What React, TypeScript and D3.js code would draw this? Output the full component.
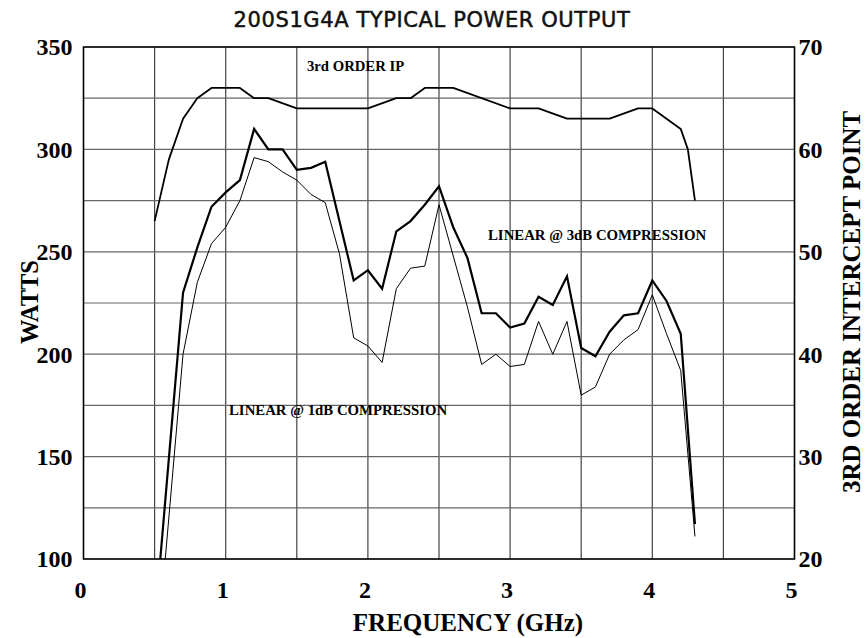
import React, { useRef, useEffect } from 'react';
import * as d3 from 'd3';

// 3rd order intercept point (dBm, right axis)
const ipFreq = [0.5, 0.6, 0.7, 0.8, 0.9, 1.1, 1.2, 1.3, 1.5, 2.0, 2.2, 2.3, 2.4, 2.6, 3.0, 3.2, 3.4, 3.7, 3.9, 4.0, 4.2, 4.25, 4.3];
const ipValue = [53, 59, 63, 65, 66, 66, 65, 65, 64, 64, 65, 65, 66, 66, 64, 64, 63, 63, 64, 64, 62, 60, 55];

// linear @ 3dB compression (watts)
const p3Freq = [0.54, 0.7, 0.8, 0.9, 1.0, 1.1, 1.2, 1.3, 1.4, 1.5, 1.6, 1.7, 1.9, 2.0, 2.1, 2.2, 2.3, 2.4, 2.5, 2.6, 2.7, 2.8, 2.9, 3.0, 3.1, 3.2, 3.3, 3.4, 3.5, 3.6, 3.7, 3.8, 3.9, 4.0, 4.1, 4.2, 4.3];
const p3Watts = [100, 230, 252, 272, 279, 285, 310, 300, 300, 290, 291, 294, 236, 241, 232, 260, 265, 273, 282, 262, 247, 220, 220, 213, 215, 228, 224, 238, 203, 199, 211, 219, 220, 236, 226, 210, 117];

// linear @ 1dB compression (watts)
const p1Freq = [0.575, 0.7, 0.8, 0.9, 1.0, 1.1, 1.2, 1.3, 1.4, 1.5, 1.6, 1.7, 1.8, 1.9, 2.0, 2.1, 2.2, 2.3, 2.4, 2.5, 2.7, 2.8, 2.9, 3.0, 3.1, 3.2, 3.3, 3.4, 3.5, 3.6, 3.7, 3.8, 3.9, 4.0, 4.1, 4.2, 4.3];
const p1Watts = [100, 200, 235, 254, 262, 275, 296, 294, 289, 285, 278, 274, 249, 208, 204, 196, 232, 242, 243, 273, 223, 195, 200, 194, 195, 216, 200, 216, 180, 184, 200, 207, 212, 229, 210, 192, 111];

const xTicks = [0, 1, 2, 3, 4, 5];
const yTicks = [100, 150, 200, 250, 300, 350];
const ipTicks = [20, 30, 40, 50, 60, 70];

const App = () => {
  const svgRef = useRef<SVGSVGElement>(null);

  useEffect(() => {
    const width = 865;
    const height = 638;
    const margin = { top: 47, right: 70.5, bottom: 79, left: 83.5 };

    const svg = d3.select(svgRef.current);
    svg.selectAll('*').remove();
    svg.attr('width', width).attr('height', height);

    const x = d3.scaleLinear().domain([0, 5]).range([margin.left, width - margin.right]);
    const y = d3.scaleLinear().domain([100, 350]).range([height - margin.bottom, margin.top]);
    const yIp = d3.scaleLinear().domain([20, 70]).range([height - margin.bottom, margin.top]);

    const serif = '"Liberation Serif", "Times New Roman", serif';

    // title
    svg.append('text')
      .attr('x', 432)
      .attr('y', 27)
      .attr('text-anchor', 'middle')
      .attr('font-family', '"DejaVu Sans", sans-serif')
      .attr('font-size', 21)
      .attr('letter-spacing', 0.6)
      .attr('fill', '#111')
      .attr('stroke', '#111')
      .attr('stroke-width', 0.5)
      .text('200S1G4A TYPICAL POWER OUTPUT');

    // grid
    const grid = svg.append('g');
    d3.range(0, 5.01, 0.5).forEach(v => {
      grid.append('line')
        .attr('x1', x(v)).attr('x2', x(v))
        .attr('y1', y(100)).attr('y2', y(350))
        .attr('stroke', '#444').attr('stroke-width', 1.2);
    });
    d3.range(100, 351, 25).forEach(v => {
      grid.append('line')
        .attr('x1', x(0)).attr('x2', x(5))
        .attr('y1', y(v)).attr('y2', y(v))
        .attr('stroke', '#666').attr('stroke-width', 1.2);
    });
    grid.append('rect')
      .attr('x', x(0)).attr('y', y(350))
      .attr('width', x(5) - x(0)).attr('height', y(100) - y(350))
      .attr('fill', 'none').attr('stroke', '#000').attr('stroke-width', 1.5);

    // left ticks
    svg.append('g').selectAll('text').data(yTicks).join('text')
      .attr('x', x(0) - 11)
      .attr('y', d => y(d))
      .attr('dy', '0.35em')
      .attr('text-anchor', 'end')
      .attr('font-family', serif)
      .attr('font-weight', 'bold')
      .attr('font-size', 24)
      .text(d => d);

    // right ticks
    svg.append('g').selectAll('text').data(ipTicks).join('text')
      .attr('x', x(5) + 4)
      .attr('y', d => yIp(d))
      .attr('dy', '0.35em')
      .attr('text-anchor', 'start')
      .attr('font-family', serif)
      .attr('font-weight', 'bold')
      .attr('font-size', 24)
      .text(d => d);

    // bottom ticks
    svg.append('g').selectAll('text').data(xTicks).join('text')
      .attr('x', d => x(d) - 3)
      .attr('y', 598)
      .attr('text-anchor', 'middle')
      .attr('font-family', serif)
      .attr('font-weight', 'bold')
      .attr('font-size', 24)
      .text(d => d);

    // axis titles
    svg.append('text')
      .attr('x', 468).attr('y', 631)
      .attr('text-anchor', 'middle')
      .attr('font-family', serif).attr('font-weight', 'bold').attr('font-size', 25)
      .text('FREQUENCY (GHz)');

    svg.append('text')
      .attr('transform', `translate(38, 302) rotate(-90)`)
      .attr('text-anchor', 'middle')
      .attr('font-family', serif).attr('font-weight', 'bold').attr('font-size', 24.5)
      .text('WATTS');

    svg.append('text')
      .attr('transform', `translate(860, 302) rotate(-90)`)
      .attr('text-anchor', 'middle')
      .attr('font-family', serif).attr('font-weight', 'bold').attr('font-size', 25)
      .text('3RD ORDER INTERCEPT POINT');

    // curves
    const ipLine = d3.line<number>()
      .x((_, i) => x(ipFreq[i]))
      .y(d => yIp(d));
    svg.append('path')
      .datum(ipValue)
      .attr('d', ipLine)
      .attr('fill', 'none').attr('stroke', '#000').attr('stroke-width', 1.8)
      .attr('stroke-linejoin', 'round');

    const p3Line = d3.line<number>()
      .x((_, i) => x(p3Freq[i]))
      .y(d => y(d));
    svg.append('path')
      .datum(p3Watts)
      .attr('d', p3Line)
      .attr('fill', 'none').attr('stroke', '#000').attr('stroke-width', 2.2);

    const p1Line = d3.line<number>()
      .x((_, i) => x(p1Freq[i]))
      .y(d => y(d));
    svg.append('path')
      .datum(p1Watts)
      .attr('d', p1Line)
      .attr('fill', 'none').attr('stroke', '#000').attr('stroke-width', 1);

    // curve labels
    const labels = [
      { text: '3rd ORDER IP', x: 307, y: 71, size: 14.7 },
      { text: 'LINEAR @ 3dB COMPRESSION', x: 488, y: 240, size: 14.8 },
      { text: 'LINEAR @ 1dB COMPRESSION', x: 229, y: 415, size: 14.8 },
    ];
    svg.append('g').selectAll('text').data(labels).join('text')
      .attr('x', d => d.x)
      .attr('y', d => d.y)
      .attr('font-family', serif)
      .attr('font-weight', 'bold')
      .attr('font-size', d => d.size)
      .text(d => d.text);
  }, []);

  return <svg ref={svgRef} style={{ position: 'absolute', left: 0, top: 0, background: '#fff' }}></svg>;
};

export default App;
